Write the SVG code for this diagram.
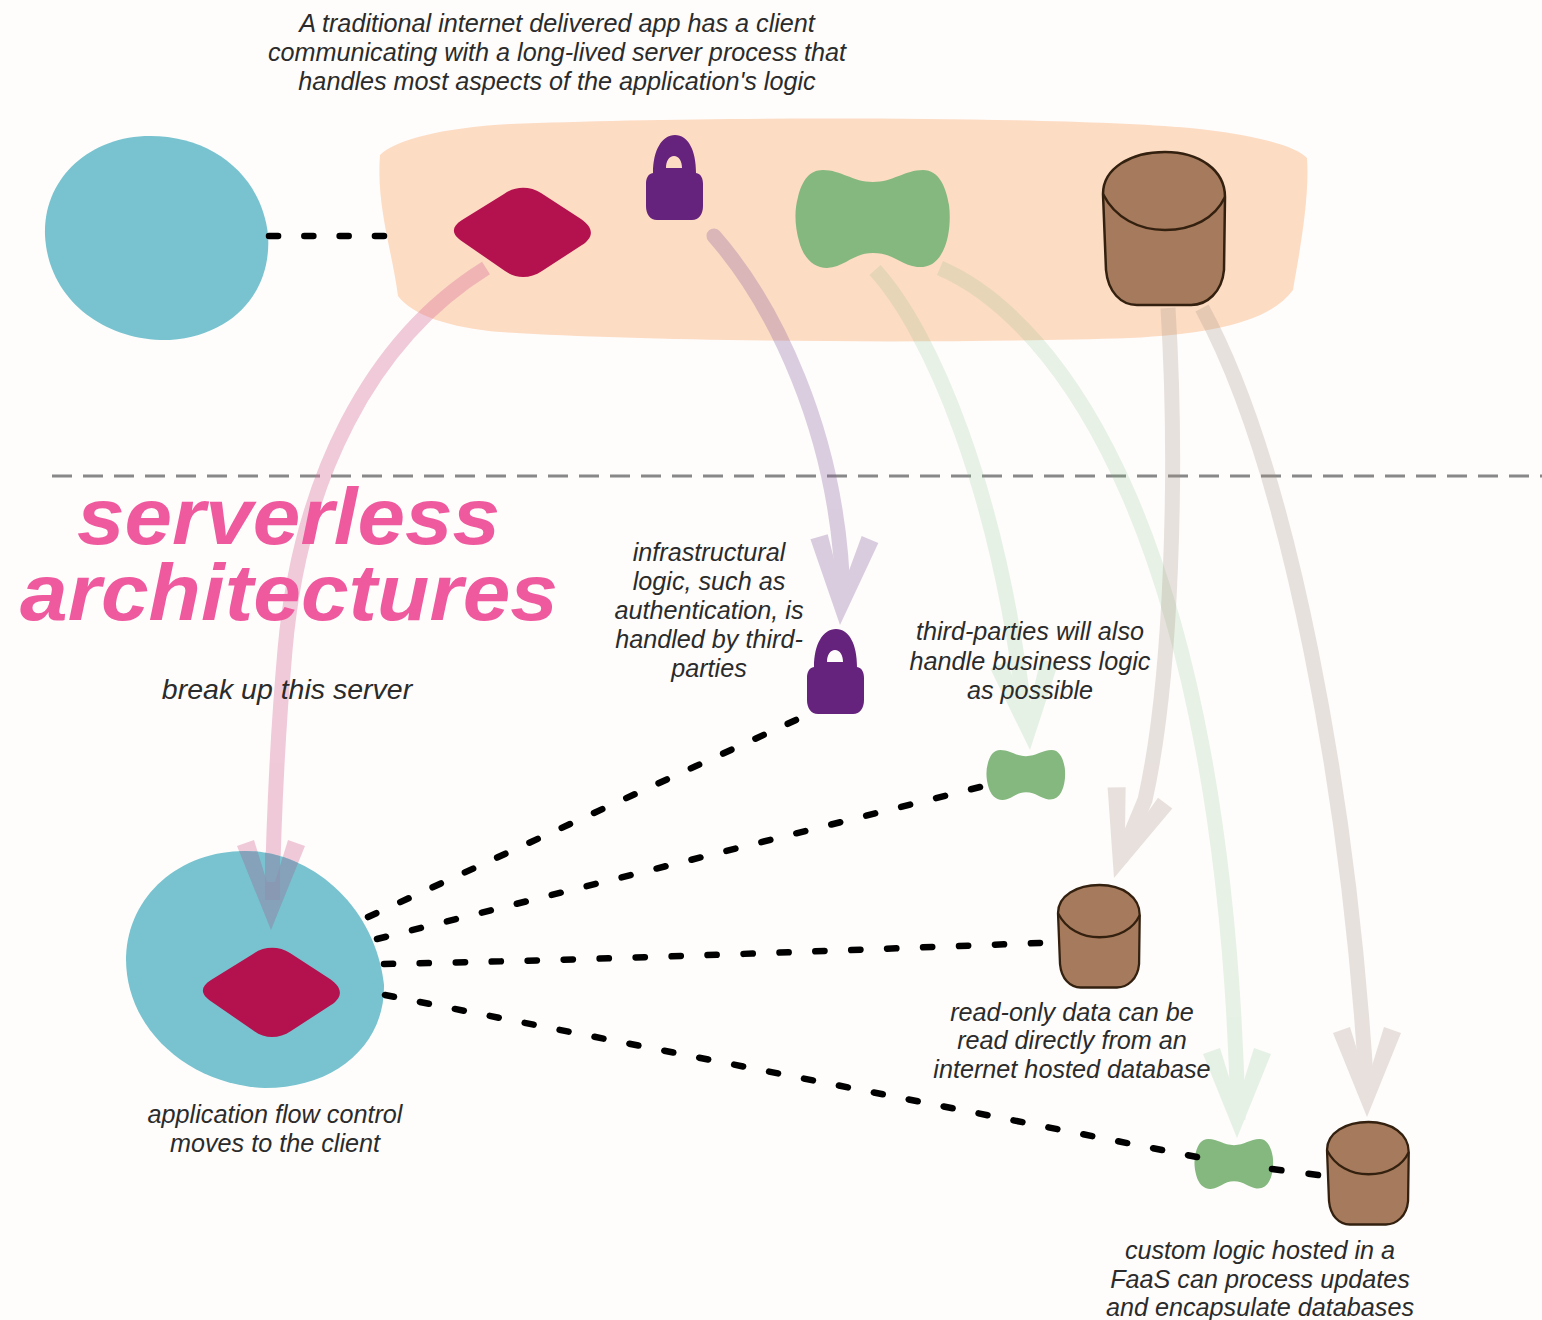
<svg xmlns="http://www.w3.org/2000/svg" width="1542" height="1320" viewBox="0 0 1542 1320">
<style>
.t{font-family:"Liberation Sans",Arial,sans-serif;font-style:italic;font-size:25.2px;fill:#2b2b2b;text-anchor:middle}
.b{font-size:28.5px}
.h{font-family:"Liberation Sans",Arial,sans-serif;font-style:italic;font-weight:700;font-size:80px;fill:#ef5a9e}
.dash{fill:none;stroke:#000;stroke-width:6.5;stroke-linecap:round;stroke-dasharray:9 26}
.shaft{fill:none;stroke-width:15}
.lock{fill:#65237e}
.green{fill:#85b87f}
.red{fill:#b4124f}
.client{fill:#78c3cf}
.db{fill:#a67a5c;stroke:#33200f;stroke-width:2.5}
.dbs{fill:#a67a5c;stroke:#33200f;stroke-width:3.4}
.rim{fill:none}
</style>
<defs>
<path id="lockshape" fill-rule="evenodd" d="M-21 -5C-21 -28 -12 -43 1 -43C14 -43 22 -28 22 -5C27 -4 29 0 29 6V28C29 36 25 42 18 42H-17C-24 42 -28 36 -28 28V6C-28 0 -26 -4 -21 -5ZM-8 -10H8C8 -17 5 -22 0 -22C-5 -22 -8 -17 -8 -10Z"/>
<path id="greenshape" d="M-50 -49C-32 -49 -20 -37 0 -37C20 -37 32 -49 50 -49C66 -49 73 -32 76 -14C78 2 76 20 70 32C64 44 56 49 44 48C28 46 20 34 0 34C-20 34 -28 48 -46 49C-60 49 -70 38 -74 22C-78 8 -79 -8 -75 -22C-71 -38 -64 -49 -50 -49Z"/>
<path id="redshape" d="M-18 -38C-7 -46 8 -46 19 -39L59 -13C72 -4 72 5 60 13L20 39C8 47 -6 47 -17 39L-59 10C-71 2 -71 -5 -60 -12Z"/>
<path id="head" d="M0 0L-34 -84L-17 -90L-4 -48L4 -48L17 -90L34 -84Z"/>
<g id="cyl">
<path d="M0 42C0 16 28 0 62 0C96 0 122 18 122 45L121 118C119 140 104 153 88 153H34C18 153 5 140 3 118Z"/>
<path class="rim" d="M0 42C12 66 36 78 62 78C90 78 112 66 122 45"/>
</g>
<clipPath id="clientclip"><path d="M245 851C310 851 375 905 384 985C385 1045 335 1088 265 1088C190 1085 125 1030 126 957C128 895 180 851 245 851Z"/></clipPath>
</defs>

<rect width="1542" height="1320" fill="#fefdfc"/>
<path id="dline" d="M52 476H1542" fill="none" stroke="#888" stroke-width="3" stroke-dasharray="20 11"/>

<g id="server">
<path d="M380 155C395 140 440 128 510 124C700 116 1050 116 1190 128C1250 134 1295 145 1307 158C1310 200 1298 260 1293 290C1270 322 1210 334 1130 338C950 344 650 342 500 332C450 328 412 315 398 296C392 250 376 205 380 155Z" fill="#fddcc4"/>
</g>

<g id="arrows">
<g id="arrow-red" stroke="#d9709a" fill="#d9709a" opacity=".36">
<path class="shaft" d="M486 268C370 340 300 480 285 650C278 730 274 800 272 905"/>
<use href="#head" transform="translate(271 930)" stroke="none"/>
</g>
<g id="arrow-purple" stroke="#8b5f9e" fill="#8b5f9e" opacity=".3">
<path class="shaft" d="M714 236C770 300 840 430 843 600" stroke-linecap="round"/>
<use href="#head" transform="translate(840 625) rotate(3)" stroke="none"/>
</g>
<g id="arrow-green1" stroke="#7fbf82" fill="#7fbf82" opacity=".18">
<path class="shaft" d="M875 270C930 330 1000 490 1026 725"/>
<use href="#head" transform="translate(1030 750) rotate(-4)" stroke="none"/>
</g>
<g id="arrow-green2" stroke="#7fbf82" fill="#7fbf82" opacity=".18">
<path class="shaft" d="M940 268C1060 320 1225 540 1238 1120"/>
<use href="#head" transform="translate(1237 1138)" stroke="none"/>
</g>
<g id="arrow-brown1" stroke="#a89284" fill="#a89284" opacity=".26">
<path class="shaft" d="M1168 308C1178 470 1172 680 1145 800L1120 860"/>
<use href="#head" transform="translate(1114 878) rotate(18)" stroke="none"/>
</g>
<g id="arrow-brown2" stroke="#a89284" fill="#a89284" opacity=".26">
<path class="shaft" d="M1202 308C1290 470 1350 800 1367 1095"/>
<use href="#head" transform="translate(1367 1117)" stroke="none"/>
</g>
</g>

<g id="client-top"><path class="client" d="M150 136C215 136 262 178 268 235C272 290 235 335 170 340C105 342 48 300 45 235C43 178 90 136 150 136Z"/></g>
<g id="client-bottom"><path class="client" d="M245 851C310 851 375 905 384 985C385 1045 335 1088 265 1088C190 1085 125 1030 126 957C128 895 180 851 245 851Z"/></g>
<g id="arrow-over" clip-path="url(#clientclip)" fill="#8a94b0" fill-opacity=".7">
<path d="M271 930L237 846L254 840L267 882L275 882L288 840L305 846Z"/>
<rect x="265" y="840" width="15" height="60"/>
</g>

<g id="red-top"><use href="#redshape" x="522" y="232" class="red"/></g>
<g id="red-bottom"><use href="#redshape" x="271" y="992" class="red"/></g>
<g id="lock-top"><use href="#lockshape" x="674" y="178" class="lock"/></g>
<g id="lock-bottom"><use href="#lockshape" x="835" y="672" class="lock"/></g>
<g id="green-top"><use href="#greenshape" x="873" y="219" class="green"/></g>
<g id="green-mid"><use href="#greenshape" transform="translate(1026 775) scale(.51)" class="green"/></g>
<g id="green-low"><use href="#greenshape" transform="translate(1234 1164) scale(.51)" class="green"/></g>
<g id="db-top"><use href="#cyl" transform="translate(1103 152)" class="db"/></g>
<g id="db-mid"><use href="#cyl" transform="translate(1058 885) scale(.67)" class="dbs"/></g>
<g id="db-low"><use href="#cyl" transform="translate(1327 1122) scale(.67)" class="dbs"/></g>

<g id="connectors">
<path d="M269 236L384 236" class="dash" pathLength="114"/>
<path d="M368 917L796 720" class="dash" pathLength="464"/>
<path d="M377 939L980 787" class="dash" pathLength="604"/>
<path d="M384 964C600 960 850 950 1040 943" class="dash" pathLength="639"/>
<path d="M385 995L1197 1157" class="dash" pathLength="814"/>
<path d="M1272 1169L1318 1175" class="dash" pathLength="44"/>
</g>

<g id="labels">
<text class="t" x="557" y="32">A traditional internet delivered app has a client</text>
<text class="t" x="557" y="61">communicating with a long-lived server process that</text>
<text class="t" x="557" y="90">handles most aspects of the application's logic</text>
<text class="h" x="77" y="544" textLength="423" lengthAdjust="spacingAndGlyphs">serverless</text>
<text class="h" x="20" y="620" textLength="538" lengthAdjust="spacingAndGlyphs">architectures</text>
<text class="t b" x="287" y="699">break up this server</text>
<text class="t" x="709" y="561">infrastructural</text>
<text class="t" x="709" y="590">logic, such as</text>
<text class="t" x="709" y="619">authentication, is</text>
<text class="t" x="709" y="648">handled by third-</text>
<text class="t" x="709" y="677">parties</text>
<text class="t" x="1030" y="640">third-parties will also</text>
<text class="t" x="1030" y="670">handle business logic</text>
<text class="t" x="1030" y="699">as possible</text>
<text class="t" x="1072" y="1021">read-only data can be</text>
<text class="t" x="1072" y="1049">read directly from an</text>
<text class="t" x="1072" y="1078">internet hosted database</text>
<text class="t" x="275" y="1123">application flow control</text>
<text class="t" x="275" y="1152">moves to the client</text>
<text class="t" x="1260" y="1259">custom logic hosted in a</text>
<text class="t" x="1260" y="1288">FaaS can process updates</text>
<text class="t" x="1260" y="1316">and encapsulate databases</text>
</g>
</svg>
